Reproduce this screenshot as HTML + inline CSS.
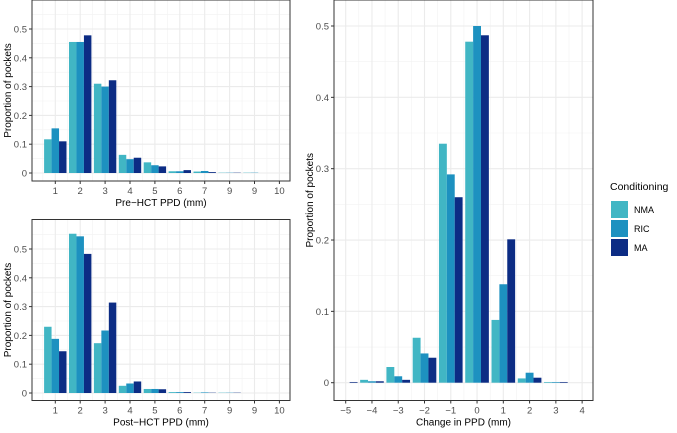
<!DOCTYPE html>
<html><head><meta charset="utf-8"><style>
body{margin:0;background:#fff;font-family:"Liberation Sans",Arial,sans-serif}
svg text{font-family:"Liberation Sans",Arial,sans-serif}
</style></head><body>
<svg id="chart" width="677" height="428" xmlns="http://www.w3.org/2000/svg"></svg>
<script>
const groups = ["NMA","RIC","MA"];
const colors = ["#41B6C4","#1D91C0","#0C2C84"];
const preLabels = ["1","2","3","4","5","6","7","9","9","10"];
const preNMA = [0.117,0.455,0.31,0.063,0.037,0.006,0.005,0.001,0.001,0];
const preRIC = [0.155,0.455,0.30,0.048,0.027,0.006,0.007,0.001,0.001,0];
const preMA  = [0.11,0.478,0.322,0.053,0.023,0.01,0.003,0.001,0,0];
const postLabels = ["1","2","3","4","5","6","7","9","9","10"];
const postNMA = [0.23,0.553,0.173,0.025,0.014,0.003,0.001,0.001,0,0];
const postRIC = [0.188,0.544,0.217,0.033,0.014,0.003,0.002,0.001,0,0];
const postMA  = [0.145,0.483,0.314,0.04,0.013,0.003,0.001,0.001,0,0];
const chgLabels = ["-5","-4","-3","-2","-1","0","1","2","3","4"];
const chgNMA = [0,0.004,0.022,0.063,0.335,0.478,0.088,0.006,0.001,0];
const chgRIC = [0,0.002,0.009,0.041,0.292,0.5,0.138,0.014,0.001,0];
const chgMA  = [0.001,0.002,0.004,0.035,0.26,0.487,0.201,0.007,0.001,0];
const yTicks = [0,0.1,0.2,0.3,0.4,0.5];

const svg = document.getElementById('chart');
const NS = "http://www.w3.org/2000/svg";
function mk(tag, attrs, parent){const e=document.createElementNS(NS,tag);for(const k in attrs)e.setAttribute(k,attrs[k]);(parent||svg).appendChild(e);return e;}

function panel(name, box, x0, dx, y0, yUnit, labels, series, xtitle){
  const g = mk('g',{});
  
  
  const xs = i => x0 + i*dx;
  const ys = v => y0 - v*10*yUnit;
  for(let v=0.05; ys(v)>box.y; v+=0.1){ mk('line',{x1:box.x,x2:box.x+box.w,y1:ys(v),y2:ys(v),stroke:'#F2F2F2','stroke-width':0.6},g); }
  for(let i=-0.5;i<labels.length;i+=1){ const x=xs(i); if(x>box.x&&x<box.x+box.w) mk('line',{x1:x,x2:x,y1:box.y,y2:box.y+box.h,stroke:'#F2F2F2','stroke-width':0.6},g); }
  yTicks.forEach(v=>{ mk('line',{x1:box.x,x2:box.x+box.w,y1:ys(v),y2:ys(v),stroke:'#EBEBEB','stroke-width':1.1},g); });
  labels.forEach((l,i)=>{ mk('line',{x1:xs(i),x2:xs(i),y1:box.y,y2:box.y+box.h,stroke:'#EBEBEB','stroke-width':1.1},g); });
  const bw = dx*0.3;
  series.forEach((arr,s)=>{
    arr.forEach((v,i)=>{
      const r = mk('rect',{x:xs(i)-1.5*bw+s*bw,y:ys(v),width:bw,height:Math.max(0,y0-ys(v)),fill:colors[s]},g);
      
      
    });
  });
  mk('rect',{x:box.x,y:box.y,width:box.w,height:box.h,fill:'none',stroke:'#333','stroke-width':1},g);
  yTicks.forEach(v=>{
    mk('line',{x1:box.x-3,x2:box.x,y1:ys(v),y2:ys(v),stroke:'#333'},g);
    const t=mk('text',{x:box.x-5,y:ys(v)+3.5,'text-anchor':'end','font-size':9.5,fill:'#4D4D4D'},g); t.textContent=v===0?'0':String(v);
  });
  labels.forEach((l,i)=>{
    mk('line',{x1:xs(i),x2:xs(i),y1:box.y+box.h,y2:box.y+box.h+3,stroke:'#333'},g);
    const t=mk('text',{x:xs(i),y:box.y+box.h+13,'text-anchor':'middle','font-size':9.5,fill:'#4D4D4D'},g); t.textContent=l.replace('-','\u2212');
  });
  const xt=mk('text',{x:box.x+box.w/2,y:box.y+box.h+25,'text-anchor':'middle','font-size':10,fill:'#000'},g); xt.textContent=xtitle;
  
  
  const cy=box.y+box.h/2;
  const yt=mk('text',{x:box.x-21,y:cy,'text-anchor':'middle','font-size':10,fill:'#000',transform:`rotate(-90 ${box.x-21} ${cy})`},g); yt.textContent='Proportion of pockets';
  
  
}
panel('pre-hct-panel',{x:32,y:0,w:258,h:181},55.3,24.9,173,28.8,preLabels,[preNMA,preRIC,preMA],'Pre\u2212HCT PPD (mm)');
panel('post-hct-panel',{x:32,y:219.5,w:258,h:181},55.3,24.9,393,28.8,postLabels,[postNMA,postRIC,postMA],'Post\u2212HCT PPD (mm)');
panel('change-panel',{x:334,y:0,w:259,h:400.5},345.7,26.27,382.7,71.34,chgLabels,[chgNMA,chgRIC,chgMA],'Change in PPD (mm)');

const lg = mk('g',{});


const lt=mk('text',{x:610,y:190,'font-size':10.5,fill:'#000'},lg); lt.textContent='Conditioning';
groups.forEach((gname,i)=>{
  const e=mk('g',{},lg);
  
  
  mk('rect',{x:611,y:201+i*19,width:17,height:17,fill:colors[i]},e);
  const t=mk('text',{x:634,y:213+i*19,'font-size':9,fill:'#000'},e); t.textContent=gname;
});
</script>
</body></html>
